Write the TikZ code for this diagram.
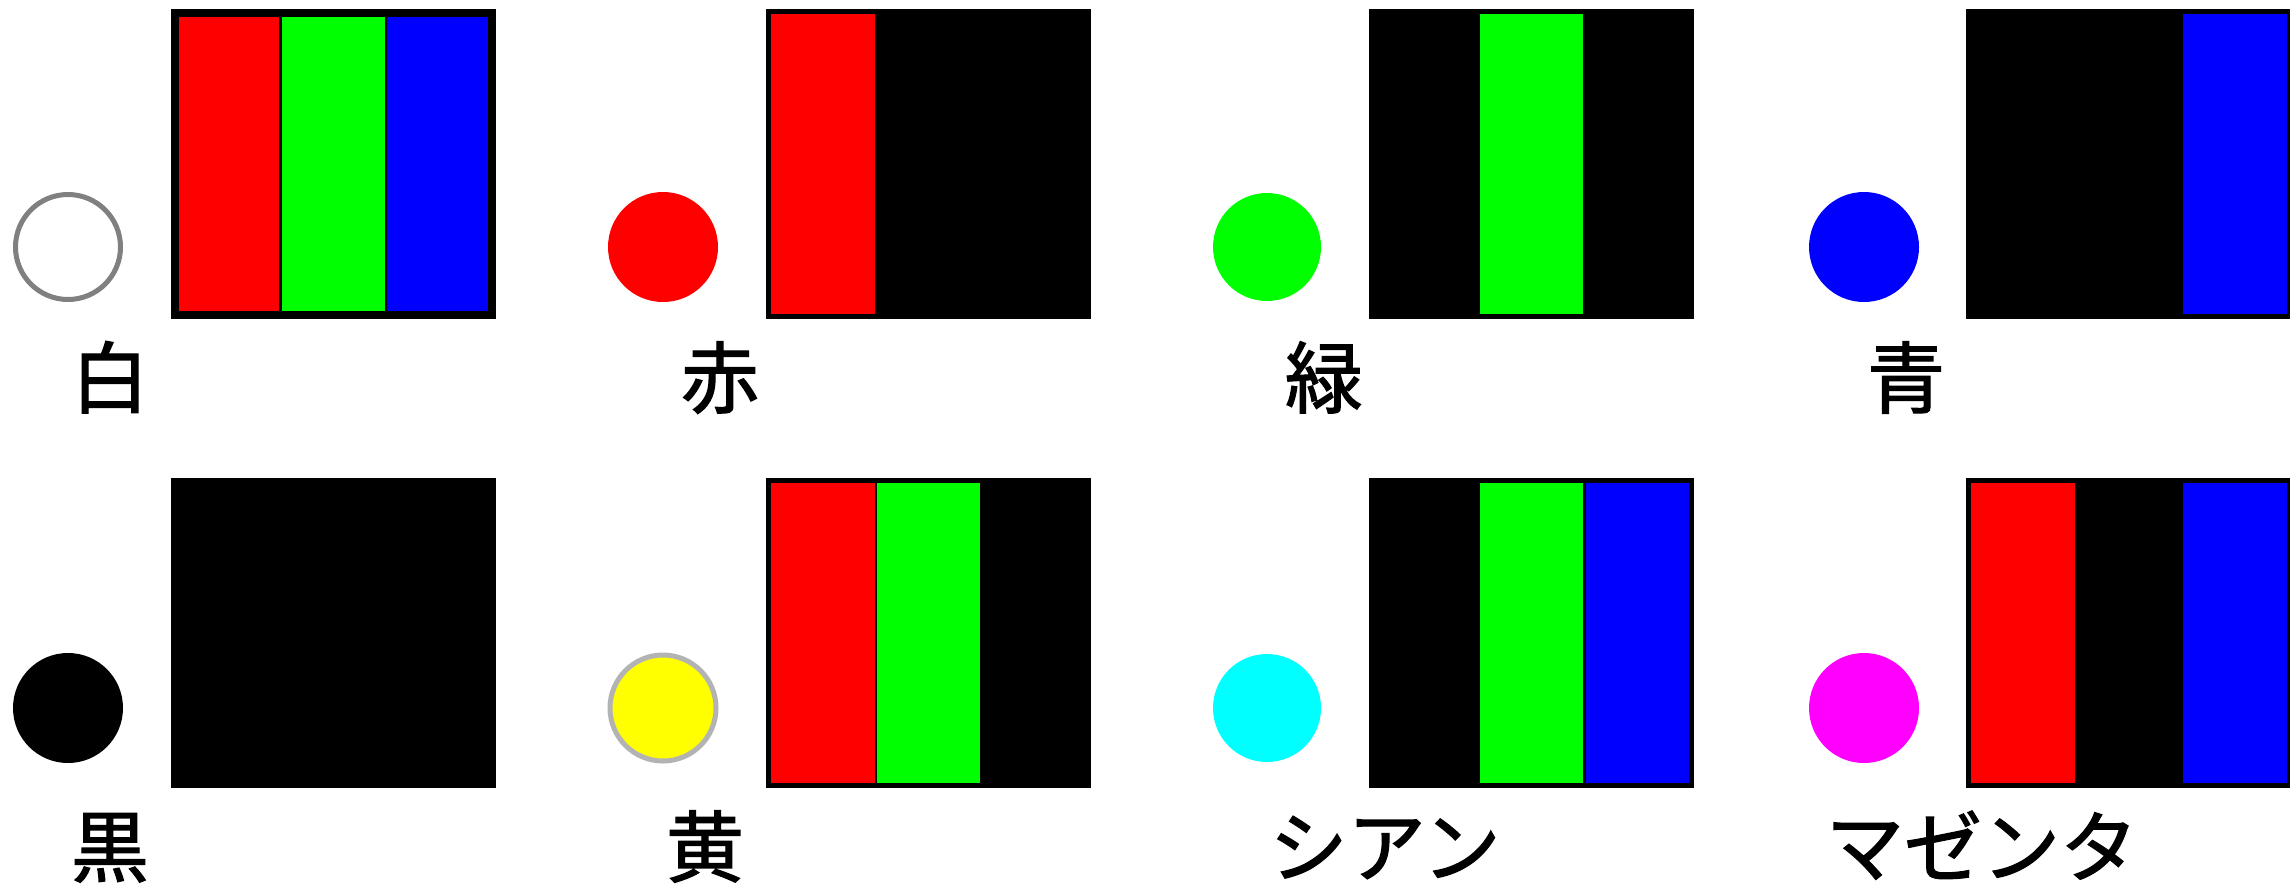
\documentclass[tikz,border=0pt]{standalone}
\usepackage{fontspec}
\newfontfamily\jpfont[FakeBold=1.6]{Noto Sans CJK JP}
\definecolor{pR}{RGB}{255,0,0}
\definecolor{pG}{RGB}{0,255,0}
\definecolor{pB}{RGB}{0,0,255}
\definecolor{pC}{RGB}{0,255,255}
\definecolor{pM}{RGB}{255,0,255}
\definecolor{pY}{RGB}{255,255,0}
\definecolor{ringW}{RGB}{128,128,128}
\definecolor{ringY}{RGB}{179,179,179}
\tikzset{
  lbl/.style={inner sep=0pt, anchor=base, font=\jpfont\fontsize{78}{78}\selectfont},
  framebox/.style={fill=black},
}
\begin{document}
\begin{tikzpicture}[x=1pt,y=-1pt]
\useasboundingbox (0,0) rectangle (2290,886);
\fill[white] (0,0) rectangle (2290,886);

% ---------- Row 1 ----------
% white
\fill[framebox] (171,9) rectangle (496,319);
\fill[pR] (179,17) rectangle (279,311);
\fill[pG] (282,17) rectangle (385,311);
\fill[pB] (387,17) rectangle (488,311);
\draw[ringW, line width=5pt, fill=white] (68,247) circle[radius=52.5pt];
\node[lbl] (lw) at (110,407) {白};

% red
\fill[framebox] (766,9) rectangle (1091,319);
\fill[pR] (771,14) rectangle (875,314);
\fill[pR] (663,247) circle[radius=55pt];
\node[lbl] (lr) at (720,407) {赤};

% green
\fill[framebox] (1369,9) rectangle (1694,319);
\fill[pG] (1480,14) rectangle (1583,314);
\fill[pG] (1267,247) circle[radius=54pt];
\node[lbl] (lg) at (1324,407) {緑};

% blue
\fill[framebox] (1966,9) rectangle (2290,319);
\fill[pB] (2183,14) rectangle (2287,314);
\fill[pB] (1864,247) circle[radius=55pt];
\node[lbl] (lb) at (1906,407) {青};

% ---------- Row 2 ----------
% black
\fill[framebox] (171,478) rectangle (496,788);
\fill[black] (68,708) circle[radius=55pt];
\node[lbl] (lk) at (110,876) {黒};

% yellow
\fill[framebox] (766,478) rectangle (1091,788);
\fill[pR] (771,483) rectangle (875,783);
\fill[pG] (877,483) rectangle (980,783);
\draw[ringY, line width=5pt, fill=pY] (663,708) circle[radius=53pt];
\node[lbl] (ly) at (705,876) {黄};

% cyan
\fill[framebox] (1369,478) rectangle (1694,788);
\fill[pG] (1480,483) rectangle (1583,783);
\fill[pB] (1586,483) rectangle (1689,783);
\fill[pC] (1267,708) circle[radius=54pt];
\node[lbl] (lc) at (1385,876) {シアン};

% magenta
\fill[framebox] (1966,478) rectangle (2290,788);
\fill[pR] (1971,483) rectangle (2075,783);
\fill[pB] (2183,483) rectangle (2287,783);
\fill[pM] (1864,708) circle[radius=55pt];
\node[lbl] (lm) at (1982,876) {マゼンタ};
\end{tikzpicture}
\end{document}
